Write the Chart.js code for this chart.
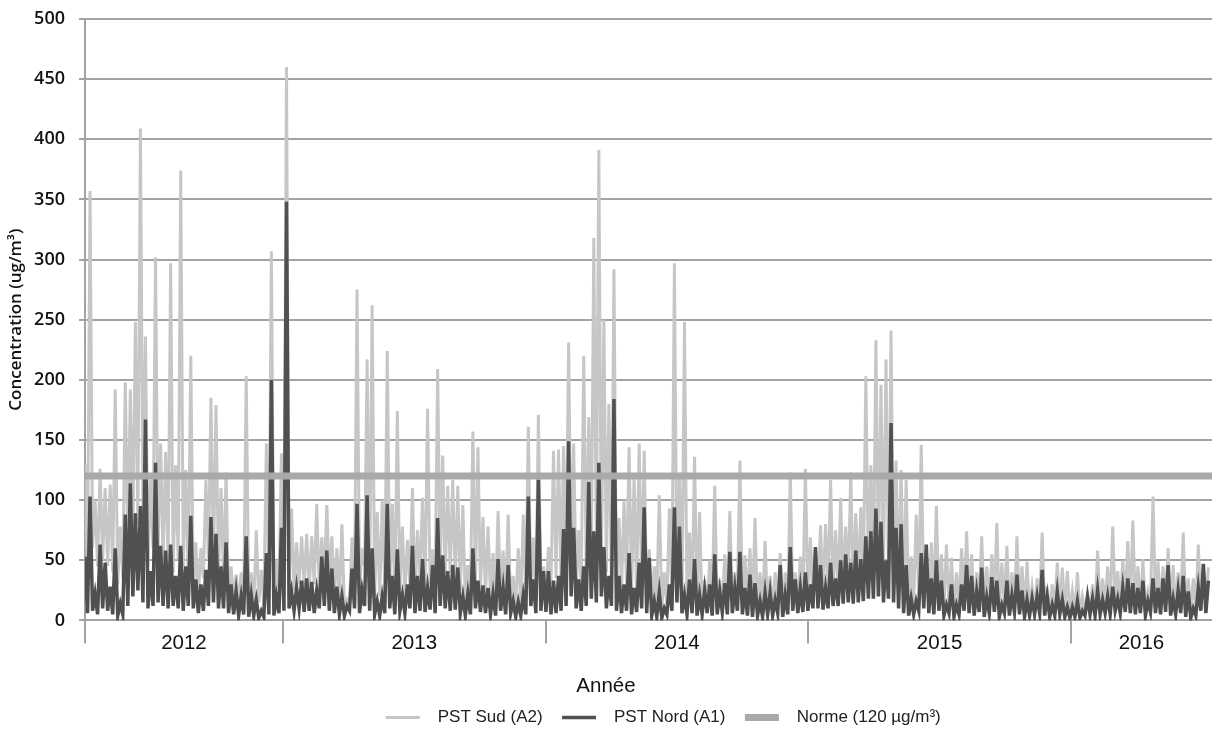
<!DOCTYPE html>
<html>
<head>
<meta charset="utf-8">
<script src="https://cdn.jsdelivr.net/npm/chart.js@4.4.1/dist/chart.umd.min.js"></script>
<style>
  html, body { margin: 0; padding: 0; background: #fff; }
  #wrap { width: 1212px; height: 736px; }
</style>
</head>
<body>
<div id="wrap"><canvas id="chart" width="1212" height="736"></canvas></div>
<script>
// values: one weekly high from 1 April 2012,
// and the low seen between each pair of highs (mid-week)
const years = ['2012', '2013', '2014', '2015', '2016'];
const firstDay = '2012-04-01';
const lastDay = '2016-07-15';
const stepDays = 7;
const norme = 120;

const sudHigh = [
  130, 357, 100, 126, 110, 113, 192, 78, 198, 192,
  248, 409, 236, 117, 302, 147, 140, 297, 129, 374,
  125, 220, 65, 60, 117, 185, 179, 110, 123, 45,
  38, 40, 203, 40, 75, 42, 147, 307, 50, 139,
  460, 93, 65, 70, 72, 70, 97, 69, 96, 70,
  60, 80, 17, 69, 275, 60, 217, 262, 90, 100,
  224, 97, 174, 78, 67, 110, 75, 102, 176, 59,
  209, 137, 112, 117, 112, 96, 46, 157, 144, 86,
  78, 56, 91, 58, 88, 37, 60, 88, 161, 69,
  171, 45, 61, 141, 142, 145, 231, 147, 75, 220,
  169, 318, 391, 250, 180, 292, 85, 100, 144, 120,
  147, 141, 59, 45, 104, 40, 93, 297, 120, 248,
  73, 136, 90, 34, 50, 112, 34, 55, 91, 40,
  133, 54, 60, 85, 40, 66, 37, 40, 56, 40,
  123, 40, 53, 126, 69, 60, 79, 80, 117, 75,
  102, 78, 123, 89, 94, 203, 129, 233, 196, 217,
  241, 133, 125, 117, 53, 88, 146, 59, 65, 95,
  55, 63, 52, 40, 60, 74, 55, 40, 70, 45,
  55, 81, 48, 62, 40, 70, 45, 49, 28, 35,
  73, 28, 30, 48, 44, 41, 24, 40, 20, 19,
  30, 58, 35, 45, 78, 41, 50, 66, 83, 45,
  51, 24, 103, 49, 45, 60, 46, 40, 73, 35,
  35, 63, 44, 44
];

const sudLow = [
  40, 60, 45, 50, 45, 40, 30, 35, 60, 70,
  80, 90, 45, 60, 55, 50, 45, 40, 50, 45,
  30, 25, 20, 35, 50, 45, 40, 35, 20, 18,
  15, 15, 18, 12, 15, 12, 30, 15, 25, 40,
  20, 25, 30, 28, 25, 30, 25, 35, 30, 20,
  15, 10, 12, 30, 25, 45, 25, 20, 20, 25,
  30, 18, 25, 20, 30, 20, 35, 25, 30, 25,
  40, 35, 40, 30, 25, 15, 20, 30, 25, 20,
  18, 15, 20, 15, 12, 10, 15, 20, 25, 15,
  15, 20, 30, 35, 30, 40, 45, 25, 30, 40,
  50, 60, 45, 40, 30, 20, 25, 30, 25, 20,
  30, 15, 12, 15, 10, 12, 20, 25, 15, 12,
  18, 10, 8, 10, 15, 8, 12, 15, 10, 18,
  12, 15, 10, 8, 10, 8, 10, 12, 8, 10,
  15, 12, 15, 20, 18, 20, 22, 25, 25, 22,
  25, 28, 25, 30, 35, 40, 35, 45, 40, 35,
  30, 25, 15, 10, 15, 20, 15, 12, 15, 15,
  10, 12, 8, 12, 15, 12, 10, 15, 8, 12,
  15, 8, 12, 10, 15, 10, 8, 8, 10, 12,
  8, 6, 8, 8, 5, 6, 5, 5, 8, 10,
  8, 10, 12, 10, 15, 12, 15, 12, 10, 12,
  8, 15, 12, 10, 12, 8, 10, 12, 8, 6,
  10, 12, 15
];

const nordHigh = [
  53, 103, 22, 63, 48, 28, 60, 14, 88, 114,
  89, 95, 167, 41, 131, 62, 58, 63, 37, 62,
  45, 87, 34, 30, 42, 86, 72, 45, 65, 30,
  24, 20, 70, 21, 17, 8, 56, 200, 20, 77,
  348, 24, 27, 33, 35, 32, 25, 53, 58, 43,
  28, 20, 12, 43, 97, 25, 104, 60, 16, 20,
  97, 37, 59, 21, 30, 62, 37, 51, 27, 46,
  85, 54, 41, 46, 44, 20, 22, 60, 33, 29,
  27, 22, 51, 27, 46, 16, 15, 21, 103, 34,
  117, 41, 41, 33, 37, 76, 149, 77, 34, 45,
  115, 74, 131, 61, 37, 184, 37, 30, 56, 27,
  48, 94, 52, 16, 23, 10, 30, 94, 78, 21,
  34, 51, 21, 25, 30, 55, 24, 31, 57, 27,
  57, 27, 38, 31, 16, 23, 23, 17, 46, 21,
  61, 34, 27, 40, 30, 61, 46, 27, 48, 35,
  50, 55, 48, 58, 51, 70, 74, 93, 82, 50,
  164, 77, 80, 46, 18, 16, 56, 63, 35, 50,
  33, 13, 30, 13, 30, 46, 37, 24, 44, 19,
  36, 33, 13, 33, 21, 38, 25, 17, 18, 20,
  42, 20, 13, 24, 17, 11, 11, 16, 8, 20,
  18, 25, 17, 20, 28, 18, 27, 35, 31, 27,
  33, 16, 35, 27, 35, 46, 18, 25, 37, 24,
  10, 27, 47, 33
];

const nordLow = [
  6, 8, 5, 10, 8, 5, 4, 5, 12, 20,
  25, 15, 10, 12, 15, 12, 10, 12, 10, 8,
  12, 10, 6, 8, 12, 15, 10, 10, 6, 5,
  4, 5, 3, 4, 2, 3, 5, 4, 6, 8,
  10, 8, 10, 7, 8, 6, 10, 12, 8, 6,
  5, 4, 8, 10, 6, 12, 8, 5, 4, 6,
  10, 5, 8, 6, 10, 6, 8, 7, 9, 6,
  12, 10, 8, 9, 6, 4, 5, 10, 7, 6,
  5, 4, 8, 5, 6, 3, 4, 5, 12, 6,
  8, 7, 5, 6, 8, 12, 20, 10, 8, 12,
  18, 15, 20, 10, 12, 8, 6, 8, 5, 7,
  10, 6, 4, 3, 2, 5, 8, 15, 6, 5,
  6, 4, 5, 6, 4, 5, 7, 5, 6, 8,
  5, 4, 3, 4, 3, 5, 4, 6, 3, 5,
  8, 6, 7, 8, 10, 10, 9, 10, 12, 12,
  14, 15, 14, 15, 16, 18, 18, 20, 15, 18,
  15, 10, 6, 4, 5, 8, 10, 6, 5, 8,
  4, 6, 3, 5, 8, 6, 4, 7, 3, 6,
  7, 3, 6, 4, 7, 5, 3, 4, 5, 6,
  4, 3, 4, 5, 3, 2, 3, 2, 4, 5,
  4, 5, 6, 5, 8, 6, 7, 6, 5, 6,
  4, 7, 6, 5, 7, 4, 5, 6, 3, 2,
  4, 8, 6
];

const DAY = 86400000;
const origin = Date.UTC(2012, 0, 1);
const dayOf = s => (Date.parse(s) - origin) / DAY;
const xMin = dayOf(firstDay);
const xMax = dayOf(lastDay);
const yearStarts = years.map(y => dayOf(y + '-01-01'));

// weekly high, then the mid-week low that follows it
const toPoints = (high, low) => {
  const pts = [];
  high.forEach((v, i) => {
    pts.push({ x: xMin + i * stepDays, y: v });
    if (i < low.length) pts.push({ x: xMin + (i + 0.5) * stepDays, y: low[i] });
  });
  return pts;
};

// year separators + a label in the middle of each visible year
const sepTicks = [xMin, ...yearStarts.slice(1)].map(v => ({ value: v }));
const labelTicks = years.map((y, i) => {
  const a = Math.max(yearStarts[i], xMin);
  const b = i + 1 < years.length ? Math.min(yearStarts[i + 1], xMax) : xMax;
  return { value: (a + b) / 2, year: y };
});

const gridColor = '#a3a3a3';

// the legend sits a bit right of the canvas centre in the original
const legendShift = {
  id: 'legendShift',
  afterLayout(chart) {
    chart.legend.left += 62;
    chart.legend.right += 62;
  }
};

const config = {
  type: 'line',
  data: {
    datasets: [
      {
        label: 'PST Sud (A2)',
        data: toPoints(sudHigh, sudLow),
        borderColor: '#c6c6c6',
        backgroundColor: '#c6c6c6',
        borderWidth: 3,
        pointRadius: 0,
        tension: 0,
        order: 3
      },
      {
        label: 'PST Nord (A1)',
        data: toPoints(nordHigh, nordLow),
        borderColor: '#505050',
        backgroundColor: '#505050',
        borderWidth: 3.5,
        pointRadius: 0,
        tension: 0,
        order: 2
      },
      {
        label: 'Norme (120 µg/m³)',
        data: [{ x: xMin, y: norme }, { x: xMax, y: norme }],
        borderColor: '#a9a9a9',
        backgroundColor: '#a9a9a9',
        borderWidth: 7,
        pointRadius: 0,
        order: 1
      }
    ]
  },
  options: {
    responsive: false,
    animation: false,
    devicePixelRatio: 1,
    layout: { padding: { top: 19, left: 0, right: 0, bottom: 0 } },
    scales: {
      x: {
        type: 'linear',
        min: xMin,
        max: xMax,
        afterBuildTicks: (scale) => {
          scale.ticks = [...sepTicks, ...labelTicks].sort((a, b) => a.value - b.value);
        },
        afterFit: (scale) => { scale.height = 40; },
        ticks: {
          autoSkip: false,
          maxRotation: 0,
          padding: -12,
          color: '#111',
          font: { family: 'Liberation Sans', size: 20.5 },
          callback: (value, index, ticks) => ticks[index].year || ''
        },
        grid: {
          drawOnChartArea: false,
          tickLength: 23,
          lineWidth: 2,
          color: (ctx) => (ctx.tick && ctx.tick.year ? 'rgba(0,0,0,0)' : gridColor)
        },
        border: { display: true, color: gridColor, width: 2 }
      },
      y: {
        min: 0,
        max: 500,
        afterFit: (scale) => {
          scale.width = 85;
          scale.paddingTop = 11;
          scale.paddingBottom = 11;
        },
        ticks: {
          stepSize: 50,
          padding: 14,
          color: '#111',
          font: { family: 'Open Sans', size: 18, weight: '600' }
        },
        grid: { color: gridColor, lineWidth: 2, tickLength: 6 },
        border: { display: true, color: gridColor, width: 2 },
        title: {
          display: true,
          text: 'Concentration (ug/m³)',
          color: '#111',
          font: { family: 'Open Sans', size: 17, weight: '600' },
          padding: { top: 6, bottom: 4 }
        }
      }
    },
    plugins: {
      title: {
        display: true,
        position: 'bottom',
        text: 'Année',
        weight: 500,
        color: '#111',
        font: { family: 'Liberation Sans', size: 20.5, weight: 'normal' },
        padding: { top: 14, bottom: 0 }
      },
      legend: {
        position: 'bottom',
        weight: 1000,
        labels: {
          usePointStyle: true,
          pointStyle: 'line',
          pointStyleWidth: 34,
          padding: 10,
          color: '#222',
          font: { family: 'Liberation Sans', size: 17 },
          sort: (a, b) => a.datasetIndex - b.datasetIndex,
          generateLabels: (chart) => {
            const items = Chart.defaults.plugins.legend.labels.generateLabels(chart);
            items.forEach(it => { it.text = '  ' + it.text + '  '; });
            return items;
          }
        }
      },
      tooltip: { enabled: false }
    }
  },
  plugins: [legendShift]
};

new Chart(document.getElementById('chart').getContext('2d'), config);
</script>
</body>
</html>
